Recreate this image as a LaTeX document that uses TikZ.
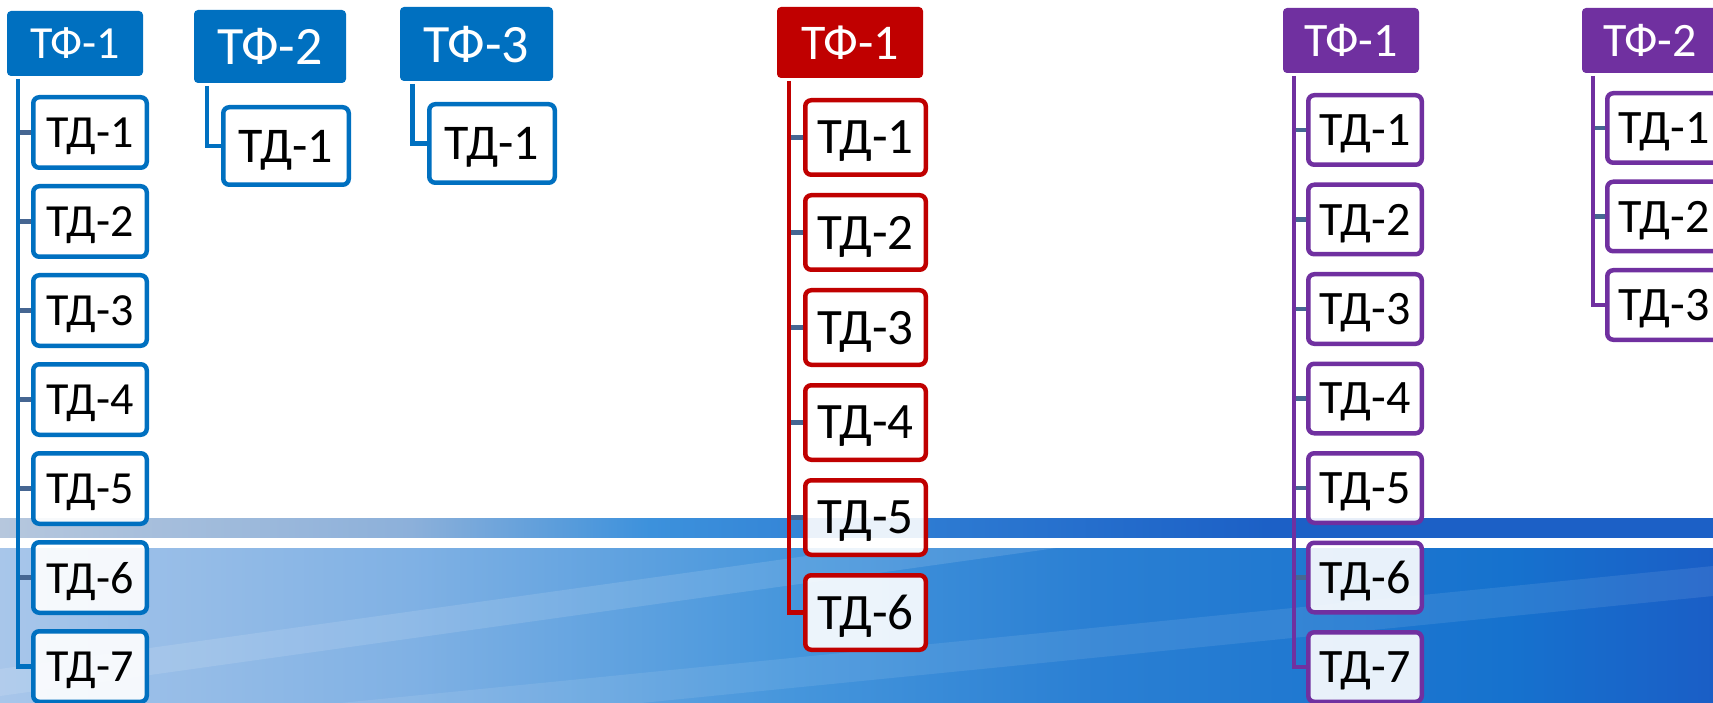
\documentclass[tikz,border=0pt]{standalone}
\usepackage{fontspec}
\setmainfont{Carlito}
\usetikzlibrary{positioning}
\definecolor{tfblue}{RGB}{0,112,192}
\definecolor{tfred}{RGB}{192,0,0}
\definecolor{tfpurple}{RGB}{112,48,160}
\definecolor{stubcol}{RGB}{70,102,146}
\definecolor{bandA}{RGB}{168,198,234}
\definecolor{bandB}{RGB}{128,177,228}
\definecolor{bandC}{RGB}{70,150,220}
\definecolor{bandD}{RGB}{42,127,211}
\definecolor{bandE}{RGB}{22,114,206}
\definecolor{bandF}{RGB}{26,94,198}
\definecolor{topA}{RGB}{182,199,221}
\definecolor{topB}{RGB}{140,176,218}
\definecolor{topC}{RGB}{60,145,220}
\definecolor{topD}{RGB}{28,96,198}
\pgfdeclarehorizontalshading{bandmain}{100bp}{color(0bp)=(bandA); color(25bp)=(bandA);
  color(37bp)=(bandB); color(48bp)=(bandC); color(57bp)=(bandD); color(69bp)=(bandE);
  color(75bp)=(bandF); color(100bp)=(bandF)}
\pgfdeclarehorizontalshading{bandtop}{100bp}{color(0bp)=(topA); color(25bp)=(topA);
  color(37bp)=(topB); color(44bp)=(topC); color(62bp)=(topD); color(100bp)=(topD)}
\newcommand{\fsz}[1]{\fontsize{#1}{#1}\selectfont}

\begin{document}
\begin{tikzpicture}[
  x=1pt, y=-1pt,
  tfhead/.style={fill=#1, text=white, rounded corners=4pt, inner sep=0pt, outer sep=0pt,
    anchor=north west, text depth=0pt},
  tdbox/.style={draw=#1, line width=4.5pt, fill=white, fill opacity=.9, text opacity=1,
    rounded corners=6pt, inner sep=0pt, text=black, text depth=0pt},
  spine/.style={draw=#1, line width=4.5pt},
  stub/.style={draw=stubcol, line width=4.5pt}
]
\useasboundingbox (0,0) rectangle (1713,703);
\clip (0,0) rectangle (1713,703);
% slide background
\shade[shading=bandtop] (0,518) rectangle (1713,538);
\fill[white] (0,538) rectangle (1713,548);
\shade[shading=bandmain] (0,548) rectangle (1713,703);
\begin{scope}
  \clip (0,548) rectangle (1713,703);
  \fill[white, opacity=.12] (0,669) -- (1713,429) -- (1713,456) -- (0,696) -- cycle;
  \fill[white, opacity=.09] (0,737) -- (1713,566) -- (1713,596) -- (0,767) -- cycle;
\end{scope}

% blue: TF-1, TF-2, TF-3
\node[tfhead=tfblue, minimum width=136pt, minimum height=65pt, font=\fsz{46}] (b1f) at (7,11) {ТФ-1};
\node[tdbox=tfblue, minimum width=113.5pt, minimum height=70.5pt, font=\fsz{46}, anchor=north west] (b1d1) at (31,95) {ТД-1};
\node[tdbox=tfblue, minimum width=113.5pt, minimum height=70.5pt, font=\fsz{46}, below=14pt of b1d1] (b1d2) {ТД-2};
\node[tdbox=tfblue, minimum width=113.5pt, minimum height=70.5pt, font=\fsz{46}, below=14pt of b1d2] (b1d3) {ТД-3};
\node[tdbox=tfblue, minimum width=113.5pt, minimum height=70.5pt, font=\fsz{46}, below=14pt of b1d3] (b1d4) {ТД-4};
\node[tdbox=tfblue, minimum width=113.5pt, minimum height=70.5pt, font=\fsz{46}, below=14pt of b1d4] (b1d5) {ТД-5};
\node[tdbox=tfblue, minimum width=113.5pt, minimum height=70.5pt, font=\fsz{46}, below=14pt of b1d5] (b1d6) {ТД-6};
\node[tdbox=tfblue, minimum width=113.5pt, minimum height=70.5pt, font=\fsz{46}, below=14pt of b1d6] (b1d7) {ТД-7};
\coordinate (b1s) at ([xshift=11pt, yshift=-3pt]b1f.south west);
\draw[stub] (b1s |- b1d1.west) -- (b1d1.west) (b1s |- b1d2.west) -- (b1d2.west)
  (b1s |- b1d3.west) -- (b1d3.west) (b1s |- b1d4.west) -- (b1d4.west)
  (b1s |- b1d5.west) -- (b1d5.west) (b1s |- b1d6.west) -- (b1d6.west);
\draw[spine=tfblue] (b1s) |- (b1d7.west);

\node[tfhead=tfblue, minimum width=152pt, minimum height=73pt, font=\fsz{54}] (b2f) at (194,10) {ТФ-2};
\node[tdbox=tfblue, minimum width=125.5pt, minimum height=77.5pt, font=\fsz{50}, anchor=north west] (b2d1) at (221,105) {ТД-1};
\coordinate (b2s) at ([xshift=13pt, yshift=-3pt]b2f.south west);
\draw[spine=tfblue] (b2s) |- (b2d1.west);

\node[tfhead=tfblue, minimum width=153pt, minimum height=74pt, font=\fsz{54}] (b3f) at (400,7) {ТФ-3};
\node[tdbox=tfblue, minimum width=125.5pt, minimum height=78.5pt, font=\fsz{50}, anchor=north west] (b3d1) at (427,102) {ТД-1};
\coordinate (b3s) at ([xshift=12.5pt, yshift=-3pt]b3f.south west);
\draw[spine=tfblue] (b3s) |- (b3d1.west);

% red: TF-1
\node[tfhead=tfred, minimum width=146pt, minimum height=71pt, font=\fsz{50}] (r1f) at (777,7) {ТФ-1};
\node[tdbox=tfred, minimum width=120.5pt, minimum height=74.5pt, font=\fsz{51}, anchor=north west] (r1d1) at (803,98) {ТД-1};
\node[tdbox=tfred, minimum width=120.5pt, minimum height=74.5pt, font=\fsz{51}, below=16pt of r1d1] (r1d2) {ТД-2};
\node[tdbox=tfred, minimum width=120.5pt, minimum height=74.5pt, font=\fsz{51}, below=16pt of r1d2] (r1d3) {ТД-3};
\node[tdbox=tfred, minimum width=120.5pt, minimum height=74.5pt, font=\fsz{51}, below=16pt of r1d3] (r1d4) {ТД-4};
\node[tdbox=tfred, minimum width=120.5pt, minimum height=74.5pt, font=\fsz{51}, below=16pt of r1d4] (r1d5) {ТД-5};
\node[tdbox=tfred, minimum width=120.5pt, minimum height=74.5pt, font=\fsz{51}, below=16pt of r1d5] (r1d6) {ТД-6};
\coordinate (r1s) at ([xshift=12pt, yshift=-3pt]r1f.south west);
\draw[stub] (r1s |- r1d1.west) -- (r1d1.west) (r1s |- r1d2.west) -- (r1d2.west)
  (r1s |- r1d3.west) -- (r1d3.west) (r1s |- r1d4.west) -- (r1d4.west)
  (r1s |- r1d5.west) -- (r1d5.west);
\draw[spine=tfred] (r1s) |- (r1d6.west);

% purple: TF-1, TF-2
\node[tfhead=tfpurple, minimum width=136pt, minimum height=65pt, font=\fsz{48}] (p1f) at (1283,8) {ТФ-1};
\node[tdbox=tfpurple, minimum width=113.5pt, minimum height=69.5pt, font=\fsz{48}, anchor=north west] (p1d1) at (1306,93) {ТД-1};
\node[tdbox=tfpurple, minimum width=113.5pt, minimum height=69.5pt, font=\fsz{48}, below=15.5pt of p1d1] (p1d2) {ТД-2};
\node[tdbox=tfpurple, minimum width=113.5pt, minimum height=69.5pt, font=\fsz{48}, below=15.5pt of p1d2] (p1d3) {ТД-3};
\node[tdbox=tfpurple, minimum width=113.5pt, minimum height=69.5pt, font=\fsz{48}, below=15.5pt of p1d3] (p1d4) {ТД-4};
\node[tdbox=tfpurple, minimum width=113.5pt, minimum height=69.5pt, font=\fsz{48}, below=15.5pt of p1d4] (p1d5) {ТД-5};
\node[tdbox=tfpurple, minimum width=113.5pt, minimum height=69.5pt, font=\fsz{48}, below=15.5pt of p1d5] (p1d6) {ТД-6};
\node[tdbox=tfpurple, minimum width=113.5pt, minimum height=69.5pt, font=\fsz{48}, below=15.5pt of p1d6] (p1d7) {ТД-7};
\coordinate (p1s) at ([xshift=11pt, yshift=-3pt]p1f.south west);
\draw[stub] (p1s |- p1d1.west) -- (p1d1.west) (p1s |- p1d2.west) -- (p1d2.west)
  (p1s |- p1d3.west) -- (p1d3.west) (p1s |- p1d4.west) -- (p1d4.west)
  (p1s |- p1d5.west) -- (p1d5.west) (p1s |- p1d6.west) -- (p1d6.west);
\draw[spine=tfpurple] (p1s) |- (p1d7.west);

\node[tfhead=tfpurple, minimum width=136pt, minimum height=65pt, font=\fsz{48}] (p2f) at (1582,8) {ТФ-2};
\node[tdbox=tfpurple, minimum width=113.5pt, minimum height=69.5pt, font=\fsz{48}, anchor=north west] (p2d1) at (1605,91) {ТД-1};
\node[tdbox=tfpurple, minimum width=113.5pt, minimum height=69.5pt, font=\fsz{48}, below=14.5pt of p2d1] (p2d2) {ТД-2};
\node[tdbox=tfpurple, minimum width=113.5pt, minimum height=69.5pt, font=\fsz{48}, below=14.5pt of p2d2] (p2d3) {ТД-3};
\coordinate (p2s) at ([xshift=11pt, yshift=-3pt]p2f.south west);
\draw[stub] (p2s |- p2d1.west) -- (p2d1.west) (p2s |- p2d2.west) -- (p2d2.west);
\draw[spine=tfpurple] (p2s) |- (p2d3.west);
\end{tikzpicture}
\end{document}
